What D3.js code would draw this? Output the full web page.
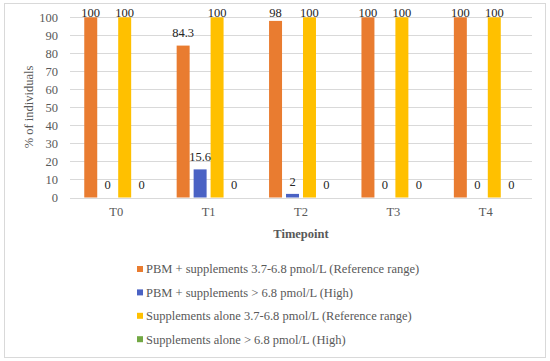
<!DOCTYPE html>
<html>
<head>
<meta charset="utf-8">
<script src="https://cdn.jsdelivr.net/npm/d3@7"></script>
<style>
  body { margin: 0; background: #fff; }
  svg { font-family: "Liberation Serif", "DejaVu Serif", serif; }
</style>
</head>
<body>
<div id="chart"></div>
<script>
var categories = ["T0", "T1", "T2", "T3", "T4"];
var seriesNames = [
  "PBM + supplements 3.7-6.8 pmol/L (Reference range)",
  "PBM + supplements > 6.8 pmol/L (High)",
  "Supplements alone 3.7-6.8 pmol/L (Reference range)",
  "Supplements alone > 6.8 pmol/L (High)"
];
var pbmRef = [100, 84.3, 98, 100, 100];
var pbmHigh = [0, 15.6, 2, 0, 0];
var suppRef = [100, 100, 100, 100, 100];
var suppHigh = [0, 0, 0, 0, 0];
var yTicks = [0, 10, 20, 30, 40, 50, 60, 70, 80, 90, 100];

var colors = ["#E97C30", "#4A62C4", "#FFC000", "#72A844"];
var allSeries = [pbmRef, pbmHigh, suppRef, suppHigh];

var W = 550, H = 361;
var svg = d3.select("#chart").append("svg")
    .attr("width", W).attr("height", H);

// outer border
svg.append("rect")
    .attr("x", 4.5).attr("y", 3.5)
    .attr("width", 541).attr("height", 354)
    .attr("fill", "#fff").attr("stroke", "#D9D9D9");

var x0 = d3.scaleBand().domain(categories).range([70, 532]);
var x1 = d3.scaleBand().domain(d3.range(4))
    .range([0, x0.bandwidth()])
    .paddingInner(0.235).paddingOuter(0.84);
var y = d3.scaleLinear().domain([0, 100]).range([197.5, 17.3]);

// gridlines
svg.append("g").selectAll("line")
  .data(yTicks).enter().append("line")
    .attr("x1", 70).attr("x2", 532)
    .attr("y1", function(d) { return Math.round(y(d)) + 0.5; })
    .attr("y2", function(d) { return Math.round(y(d)) + 0.5; })
    .attr("stroke", "#D9D9D9");

// y axis labels
var yAxis = svg.append("g")
    .attr("transform", "translate(64,0)")
    .call(d3.axisLeft(y).tickValues(yTicks).tickSize(0).tickPadding(6));
yAxis.select(".domain").remove();
yAxis.selectAll("text")
    .attr("font-family", "Liberation Serif")
    .attr("font-size", 12.5).attr("fill", "#595959");

// x axis labels
var xAxis = svg.append("g")
    .attr("transform", "translate(0,205)")
    .call(d3.axisBottom(x0).tickSize(0).tickPadding(2));
xAxis.select(".domain").remove();
xAxis.selectAll("text")
    .attr("font-family", "Liberation Serif")
    .attr("font-size", 12.5).attr("fill", "#595959");

// bars
var rows = [];
categories.forEach(function(c, i) {
  allSeries.forEach(function(s, j) {
    rows.push({cat: c, s: j, v: s[i]});
  });
});

svg.append("g").selectAll("rect")
  .data(rows).enter().append("rect")
    .attr("x", function(d) { return x0(d.cat) + x1(d.s); })
    .attr("y", function(d) { return y(d.v); })
    .attr("width", x1.bandwidth())
    .attr("height", function(d) { return y(0) - y(d.v); })
    .attr("fill", function(d) { return colors[d.s]; });

// data labels
svg.append("g").selectAll("text")
  .data(rows).enter().append("text")
    .attr("x", function(d) { return x0(d.cat) + x1(d.s) + x1.bandwidth() / 2; })
    .attr("y", function(d) { return Math.max(y(d.v) - 12.5, 13); })
    .attr("dy", "0.35em")
    .attr("text-anchor", "middle")
    .attr("font-size", 12.5)
    .attr("fill", "#262626")
    .text(function(d) { return d.v; });

// axis titles
svg.append("text")
    .attr("transform", "translate(29,107) rotate(-90)")
    .attr("text-anchor", "middle").attr("dy", "0.35em")
    .attr("font-size", 12.5).attr("fill", "#595959")
    .text("% of individuals");

svg.append("text")
    .attr("x", 301).attr("y", 234).attr("dy", "0.35em")
    .attr("text-anchor", "middle")
    .attr("font-size", 12.5).attr("font-weight", "bold").attr("fill", "#595959")
    .text("Timepoint");

// legend
var legend = svg.append("g").selectAll("g")
  .data(seriesNames).enter().append("g")
    .attr("transform", function(d, i) { return "translate(137," + (269 + i * 23.4) + ")"; });
legend.append("rect")
    .attr("x", 0).attr("y", -3).attr("width", 6).attr("height", 6)
    .attr("fill", function(d, i) { return colors[i]; });
legend.append("text")
    .attr("x", 9).attr("dy", "0.35em")
    .attr("font-size", 12.5).attr("fill", "#595959")
    .text(function(d) { return d; });
</script>
</body>
</html>
